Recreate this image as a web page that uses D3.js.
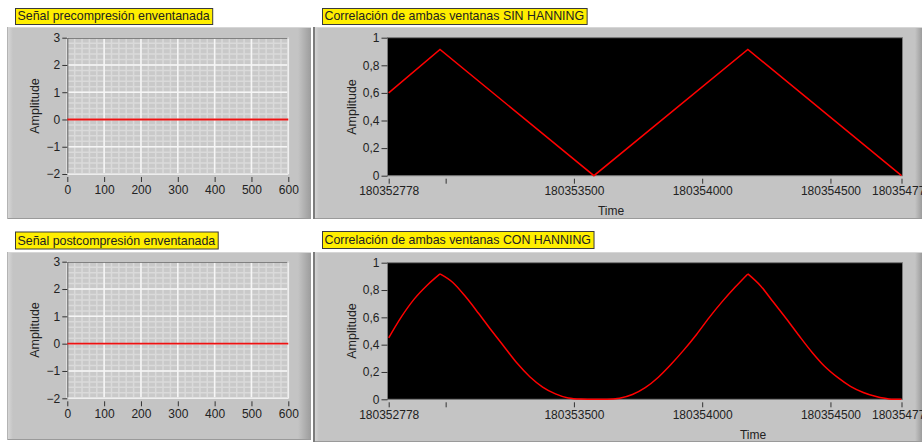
<!DOCTYPE html>
<html>
<head>
<meta charset="utf-8">
<script src="https://cdn.jsdelivr.net/npm/d3@7"></script>
<style>
  html, body { margin: 0; padding: 0; background: #ffffff; }
  svg { display: block; }
  text { font-family: "Liberation Sans", Arial, sans-serif; fill: #222; }
</style>
</head>
<body>
<svg id="chart" width="922" height="442"></svg>
<script>
// ---- Data ----
const preSampleIndex = [0, 600];
const preAmplitude = [0, 0];
const postSampleIndex = [0, 600];
const postAmplitude = [0, 0];

// Cross-correlation without window: straight segments between these vertices
const corrPlainTime = [180352778, 180352978, 180353578, 180354178, 180354777];
const corrPlainAmplitude = [0.60, 0.915, 0, 0.915, 0];

// Cross-correlation with Hanning window
const corrHannTime = [
  180352778, 180352828, 180352878, 180352928, 180352978, 180353028, 180353078,
  180353128, 180353178, 180353228, 180353278, 180353328, 180353378, 180353428,
  180353478, 180353528, 180353578, 180353628, 180353678, 180353728, 180353778,
  180353828, 180353878, 180353928, 180353978, 180354028, 180354078, 180354128,
  180354178, 180354228, 180354278, 180354328, 180354378, 180354428, 180354478,
  180354528, 180354578, 180354628, 180354678, 180354728, 180354777
];
const corrHannAmplitude = [
  0.45, 0.605, 0.735, 0.835, 0.918, 0.855, 0.75,
  0.63, 0.505, 0.385, 0.265, 0.165, 0.09, 0.04,
  0.01, 0.002, 0.0, 0.0, 0.008, 0.035, 0.085,
  0.16, 0.255, 0.36, 0.475, 0.6, 0.715, 0.82,
  0.918, 0.83, 0.71, 0.59, 0.465, 0.345, 0.24,
  0.16, 0.095, 0.05, 0.02, 0.003, 0.0
];

const sampleTicks = [0, 100, 200, 300, 400, 500, 600];
const signalAmpTicks = [-2, -1, 0, 1, 2, 3];
const corrAmpTicks = [0, 0.2, 0.4, 0.6, 0.8, 1];
const timeTicks = [180352778, 180353000, 180353500, 180354000, 180354500, 180354777];
const timeTickLabels = ["180352778", "", "180353500", "180354000", "180354500", "180354777"];

const panelTitles = [
  "Señal precompresión enventanada",
  "Correlación de ambas ventanas SIN HANNING",
  "Señal postcompresión enventanada",
  "Correlación de ambas ventanas CON HANNING"
];

// ---- Drawing ----
const svg = d3.select("#chart");
const defs = svg.append("defs");

function hGradient(id, stops) {
  const g = defs.append("linearGradient").attr("id", id)
    .attr("x1", "0%").attr("x2", "100%").attr("y1", "0%").attr("y2", "0%");
  stops.forEach(([o, c]) => g.append("stop").attr("offset", o).attr("stop-color", c));
}
hGradient("edgeLight", [["0%", "#dadada"], ["100%", "#c4c4c4"]]);
hGradient("edgeDark", [["0%", "#c4c4c4"], ["100%", "#9c9c9c"]]);

const PANEL = "#c4c4c4";
const commaFmt = d3.formatLocale({ decimal: ",", thousands: ".", grouping: [3], currency: ["", ""] }).format("~g");

function frame(f, darkLeft) {
  const g = svg.append("g");
  g.append("rect").attr("x", f.x).attr("y", f.y).attr("width", f.w).attr("height", f.h).attr("fill", PANEL);
  g.append("rect").attr("x", f.x).attr("y", f.y).attr("width", 6).attr("height", f.h).attr("fill", "url(#edgeLight)");
  g.append("rect").attr("x", f.x + f.w - f.rw).attr("y", f.y).attr("width", f.rw).attr("height", f.h).attr("fill", "url(#edgeDark)");
  g.append("line").attr("x1", f.x).attr("x2", f.x + f.w).attr("y1", f.y + 0.5).attr("y2", f.y + 0.5).attr("stroke", "#d6d6d6");
  g.append("line").attr("x1", f.x).attr("x2", f.x + f.w).attr("y1", f.y + f.h - 0.5).attr("y2", f.y + f.h - 0.5).attr("stroke", "#9a9a9a");
  if (darkLeft) {
    g.append("rect").attr("x", f.x).attr("y", f.y).attr("width", 2).attr("height", f.h).attr("fill", "#7c7c7c");
  } else {
    g.append("line").attr("x1", f.x + 0.5).attr("x2", f.x + 0.5).attr("y1", f.y).attr("y2", f.y + f.h).attr("stroke", "#b4b4b4");
  }
}

function title(t, x, y, h) {
  const g = svg.append("g");
  const r = g.append("rect").attr("x", x + 0.5).attr("y", y + 0.5).attr("height", h).attr("fill", "#ffee00").attr("stroke", "#3a3a3a");
  const tx = g.append("text").attr("x", x + 2.5).attr("y", y + h - 4).attr("font-size", "12.4px").attr("fill", "#151515").text(t);
  r.attr("width", tx.node().getComputedTextLength() + 5);
}

function styleAxis(g) {
  g.select(".domain").remove();
  g.selectAll(".tick line").attr("stroke", "#333");
  g.selectAll(".tick text").attr("font-size", "12px").attr("fill", "#1c1c1c")
    .style("font-family", '"Liberation Sans", Arial, sans-serif');
}

function yLabel(x, y) {
  svg.append("text").attr("transform", `translate(${x},${y}) rotate(-90)`)
    .attr("text-anchor", "middle").attr("dy", "0.35em").attr("font-size", "12.5px").attr("fill", "#2a2a2a").text("Amplitude");
}

// Signal graph (gray plot area with grid)
function signalGraph(p, xs, ys, ti) {
  frame(p.frame, false);
  title(panelTitles[ti], p.title.x, p.title.y, p.title.h);
  const x = d3.scaleLinear().domain([0, 600]).range([p.x0, p.x1]);
  const y = d3.scaleLinear().domain([-2, 3]).range([p.y1, p.y0]);
  const g = svg.append("g");
  g.append("rect").attr("x", p.x0).attr("y", p.y0).attr("width", p.x1 - p.x0).attr("height", p.y1 - p.y0).attr("fill", "#c9c9c9");
  // minor grid
  g.selectAll(".mx").data(x.ticks(30)).join("line")
    .attr("x1", d => x(d)).attr("x2", d => x(d)).attr("y1", p.y0).attr("y2", p.y1)
    .attr("stroke", "#dadada").attr("stroke-width", 1.5);
  g.selectAll(".my").data(y.ticks(25)).join("line")
    .attr("y1", d => y(d)).attr("y2", d => y(d)).attr("x1", p.x0).attr("x2", p.x1)
    .attr("stroke", "#dadada").attr("stroke-width", 1.5);
  // major grid
  g.selectAll(".Mx").data(sampleTicks).join("line")
    .attr("x1", d => x(d)).attr("x2", d => x(d)).attr("y1", p.y0).attr("y2", p.y1)
    .attr("stroke", "#f6f6f6").attr("stroke-width", 1.5);
  g.selectAll(".My").data(signalAmpTicks).join("line")
    .attr("y1", d => y(d)).attr("y2", d => y(d)).attr("x1", p.x0).attr("x2", p.x1)
    .attr("stroke", "#f6f6f6").attr("stroke-width", 1.5);
  // border
  g.append("path").attr("d", `M${p.x0 + 0.5},${p.y1}V${p.y0 + 0.5}H${p.x1}`).attr("fill", "none").attr("stroke", "#555");
  g.append("path").attr("d", `M${p.x1 - 0.5},${p.y0}V${p.y1 - 0.5}H${p.x0}`).attr("fill", "none").attr("stroke", "#e0e0e0");
  // trace
  const pts = xs.map((v, i) => [v, ys[i]]);
  g.append("path").datum(pts).attr("fill", "none").attr("stroke", "#ee1111").attr("stroke-width", 1.8)
    .attr("d", d3.line().x(d => x(d[0])).y(d => y(d[1])));
  // axes
  svg.append("g").attr("transform", `translate(${p.x0},0)`)
    .call(d3.axisLeft(y).tickValues(signalAmpTicks).tickSize(5).tickPadding(2).tickFormat(d3.format("d")))
    .call(styleAxis);
  svg.append("g").attr("transform", `translate(0,${p.y1 + 3})`)
    .call(d3.axisBottom(x).tickValues(sampleTicks).tickSize(5).tickPadding(3).tickFormat(d3.format("d")))
    .call(styleAxis);
  yLabel(p.ylab[0], p.ylab[1]);
}

// Split a trace at its local maxima so each run can be smoothed while the peaks stay sharp
function splitAtPeaks(pts) {
  const runs = [];
  let cur = [pts[0]];
  for (let i = 1; i < pts.length; i++) {
    cur.push(pts[i]);
    const isPeak = i < pts.length - 1 && pts[i][1] > pts[i - 1][1] && pts[i][1] > pts[i + 1][1];
    if (isPeak) { runs.push(cur); cur = [pts[i]]; }
  }
  if (cur.length > 1) runs.push(cur);
  return runs;
}

// Correlation graph (black plot area)
function corrGraph(p, xs, ys, ti, smooth) {
  frame(p.frame, true);
  title(panelTitles[ti], p.title.x, p.title.y, p.title.h);
  const x = d3.scaleLinear().domain([timeTicks[0], timeTicks[timeTicks.length - 1]]).range([p.x0, p.x1]);
  const y = d3.scaleLinear().domain([0, 1]).range([p.y1, p.y0]);
  const g = svg.append("g");
  g.append("rect").attr("x", p.bx0).attr("y", p.y0).attr("width", p.x1 - p.bx0 + 1).attr("height", p.y1 - p.y0)
    .attr("fill", "#000").attr("stroke", "#7a7a7a").attr("stroke-width", 1);
  const pts = xs.map((v, i) => [v, ys[i]]);
  const line = d3.line().x(d => x(d[0])).y(d => y(d[1]))
    .curve(smooth ? d3.curveMonotoneX : d3.curveLinear);
  const runs = smooth ? splitAtPeaks(pts) : [pts];
  g.selectAll(".trace").data(runs).join("path")
    .attr("fill", "none").attr("stroke", "#ff0000").attr("stroke-width", 1.5)
    .attr("stroke-linejoin", "miter").attr("d", line);
  svg.append("g").attr("transform", `translate(${p.bx0},0)`)
    .call(d3.axisLeft(y).tickValues(corrAmpTicks).tickSize(6).tickPadding(2).tickFormat(commaFmt))
    .call(styleAxis);
  svg.append("g").attr("transform", `translate(0,${p.y1 + 3})`)
    .call(d3.axisBottom(x).tickValues(timeTicks).tickSize(5).tickPadding(3).tickFormat((d, i) => timeTickLabels[i]))
    .call(styleAxis);
  yLabel(p.ylab[0], p.ylab[1]);
  svg.append("text").attr("x", p.tlab[0]).attr("y", p.tlab[1]).attr("text-anchor", "middle")
    .attr("font-size", "12px").attr("fill", "#2a2a2a").text("Time");
}

signalGraph({
  frame: { x: 7, y: 27, w: 304, h: 192, rw: 13 },
  title: { x: 15, y: 8, h: 16 },
  x0: 67.3, x1: 288.3, y0: 37.7, y1: 174, ylab: [35, 106]
}, preSampleIndex, preAmplitude, 0);

corrGraph({
  frame: { x: 313, y: 27, w: 609, h: 192, rw: 7 },
  title: { x: 322, y: 8, h: 16 },
  bx0: 387.5, x0: 388.7, x1: 901.5, y0: 37.7, y1: 175.7, ylab: [351.5, 107], tlab: [611, 215]
}, corrPlainTime, corrPlainAmplitude, 1, false);

signalGraph({
  frame: { x: 7, y: 252, w: 304, h: 188, rw: 13 },
  title: { x: 15, y: 231.5, h: 17 },
  x0: 67.3, x1: 288.3, y0: 261.7, y1: 398.3, ylab: [35, 330]
}, postSampleIndex, postAmplitude, 2);

corrGraph({
  frame: { x: 313, y: 252, w: 609, h: 190, rw: 7 },
  title: { x: 322, y: 231, h: 17 },
  bx0: 387.5, x0: 388.7, x1: 901.5, y0: 262.7, y1: 399.3, ylab: [351.5, 331], tlab: [753, 439]
}, corrHannTime, corrHannAmplitude, 3, true);
</script>
</body>
</html>
